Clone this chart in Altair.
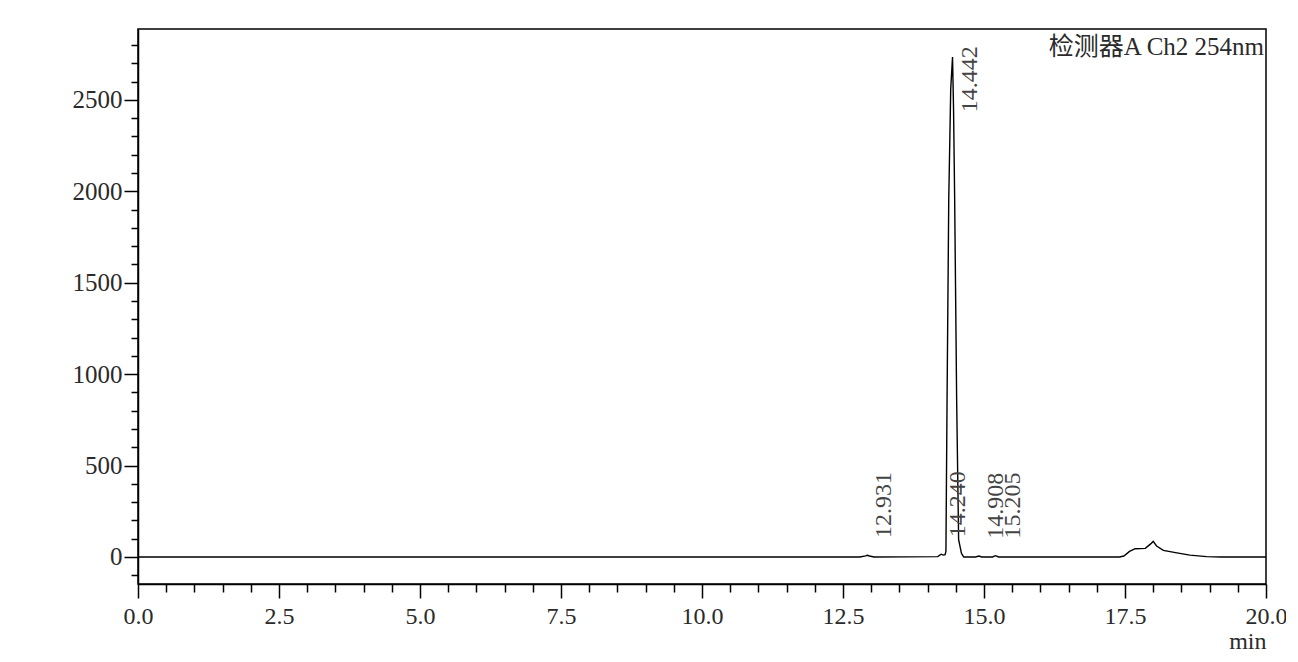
import altair as alt
import pandas as pd

# ---- chromatogram trace (min, signal) ----
times = [0.0, 12.80, 12.90, 12.931, 12.97, 13.05, 14.18, 14.24, 14.28, 14.31,
         14.325, 14.345, 14.375, 14.41, 14.442, 14.46, 14.48, 14.515, 14.55, 14.60,
         14.64, 14.85, 14.908, 14.96, 15.15, 15.205, 15.26, 17.40, 17.48, 17.58,
         17.68, 17.86, 17.95, 18.00, 18.06, 18.18, 18.42, 18.65, 18.95, 19.20, 20.0]
signal = [0, 0, 6, 9, 5, 0, 2, 15, 10, 12,
          30, 860, 1955, 2560, 2735, 2450, 1955, 860, 95, 20,
          0, 0, 5, 0, 0, 7, 0, 0, 5, 30,
          45, 47, 70, 85, 60, 36, 22, 10, 2, 0, 0]

# ---- peak annotations ----
peak_rt = [12.931, 14.240, 14.442, 14.908, 15.205]
peak_height = [10, 15, 2735, 6, 8]

detector_title = "检测器A Ch2 254nm"
x_title = "min"

trace = pd.DataFrame({"t": times, "v": signal})
peaks = pd.DataFrame({"rt": peak_rt, "h": peak_height})

serif = "Liberation Serif"
txt_color = "#2a2a2a"

x_scale = alt.Scale(domain=[0, 20], nice=False, zero=False)
y_scale = alt.Scale(domain=[-148, 2888], nice=False, zero=False)

x_axis = alt.Axis(
    values=[i * 0.5 for i in range(41)], tickCount=500,
    labelExpr="datum.value % 2.5 === 0 ? format(datum.value, '.1f') : ''",
    tickSize={"condition": {"test": "datum.value % 2.5 === 0", "value": 14}, "value": 8},
    labelFont=serif, labelFontSize=24, labelColor=txt_color, labelPadding=6,
    labelFlush=False, labelOverlap=False,
    tickColor="black", tickWidth=1.5, domainColor="black", domainWidth=1.5,
    grid=False, title=x_title, titleFont=serif, titleFontSize=24,
    titleFontWeight="normal", titleColor=txt_color, titleAnchor="end",
    titleAlign="right", titleX=1128, titleY=64, titleBaseline="alphabetic",
)
y_axis = alt.Axis(
    values=list(range(-100, 2900, 100)), tickCount=500,
    labelExpr="datum.value % 500 === 0 ? format(datum.value, 'd') : ''",
    tickSize={"condition": {"test": "datum.value % 500 === 0", "value": 14}, "value": 7},
    labelFont=serif, labelFontSize=25, labelColor=txt_color, labelPadding=2,
    labelFlush=False, labelOverlap=False,
    tickColor="black", tickWidth=1.5, domainColor="black", domainWidth=1.5,
    grid=False, title=None,
)

line = alt.Chart(trace).mark_line(color="black", strokeWidth=1.4, clip=True).encode(
    x=alt.X("t:Q", scale=x_scale, axis=x_axis),
    y=alt.Y("v:Q", scale=y_scale, axis=y_axis),
)

labels = alt.Chart(peaks).transform_calculate(
    ly="min(datum.h, 2340)",
    lab="format(datum.rt, '.3f')",
).mark_text(
    angle=270, align="left", baseline="middle", dx=17, dy=17,
    font=serif, fontSize=24, color="#444444",
).encode(
    x=alt.X("rt:Q", scale=x_scale),
    y=alt.Y("ly:Q", scale=y_scale),
    text="lab:N",
)

title_txt = alt.Chart(alt.Data(values=[{"a": 1}])).mark_text(
    align="right", baseline="alphabetic", font=f"{serif}, Noto Sans CJK SC",
    fontSize=25, color=txt_color,
).encode(
    x=alt.value(1126), y=alt.value(26), text=alt.value(detector_title),
)

chart = alt.layer(line, labels, title_txt).properties(
    width=1128, height=555,
    autosize=alt.AutoSizeParams(type="none"),
    padding={"left": 130, "top": 21, "right": 20, "bottom": 70},
    background="white",
).configure_view(stroke="black", strokeWidth=1.5)

chart.save("out.html", embed_options={"renderer": "svg", "actions": False})
